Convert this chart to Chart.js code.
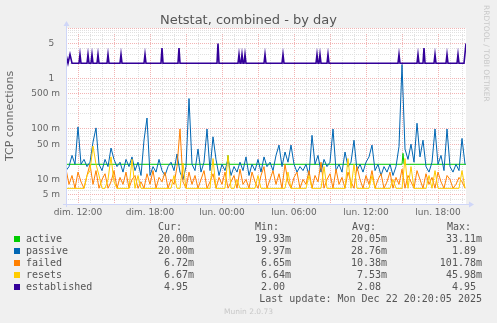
<!DOCTYPE html>
<html>
<head>
<meta charset="utf-8">
<script src="https://cdn.jsdelivr.net/npm/chart.js@4.4.1/dist/chart.umd.min.js"></script>
<style>
  body { margin: 0; background: #f0f0f0; width: 497px; height: 323px; overflow: hidden; position: relative; font-family: "DejaVu Sans", sans-serif; }
  #graphe { position: absolute; left: 0; top: 0; }
  #titre { position: absolute; left: 0; width: 497px; top: 11px; text-align: center; font-size: 13px; line-height: 17px; color: #555; }
  #rrd { position: absolute; left: 482px; top: 5px; writing-mode: vertical-rl; font-size: 7.5px; line-height: 9px; color: #c8c8c8; }
  .leg { position: absolute; font-family: "DejaVu Sans Mono", monospace; font-size: 10px; line-height: 12px; color: #555; white-space: pre; }
  .carre { position: absolute; width: 6px; height: 6px; }
  #munin { position: absolute; left: 0; width: 497px; top: 307px; text-align: center; font-size: 7.5px; line-height: 10px; color: #c8c8c8; }
</style>
</head>
<body>
<canvas id="graphe" width="497" height="222"></canvas>
<div id="titre">Netstat, combined - by day</div>
<div id="rrd">RRDTOOL / TOBI OETIKER</div>
<div id="legende"></div>
<div id="munin">Munin 2.0.73</div>
<script>
// temps en minutes depuis dim. 00:00, valeurs en milli-connexions
const debutMin = 660;
const finMin = 2660;
const pasMin = 15;

const passive = [
  15, 18, 30, 20, 110, 20, 25, 18, 22, 55,
  105, 20, 15, 25, 18, 42, 25, 18, 22, 14,
  25, 18, 28, 15, 22, 12, 60, 165, 12, 18,
  14, 25, 15, 12, 18, 22, 15, 32, 14, 10,
  18, 400, 20, 15, 40, 14, 22, 100, 15, 70,
  25, 12, 20, 15, 25, 12, 18, 14, 22, 15,
  28, 12, 20, 15, 25, 14, 28, 18, 22, 15,
  30, 48, 18, 35, 22, 48, 20, 14, 18, 15,
  20, 12, 75, 20, 30, 14, 25, 18, 22, 100,
  15, 20, 14, 35, 18, 22, 60, 15, 20, 14,
  22, 28, 48, 15, 20, 12, 18, 14, 20, 12,
  18, 45, 1890, 40, 25, 50, 22, 130, 28, 60,
  18, 14, 22, 100, 20, 30, 15, 100, 18, 14,
  20, 15, 65, 20
];

const failed = [
  16, 8, 12, 6.7, 14, 9, 6.7, 12, 20, 8,
  15, 6.7, 10, 13, 6.7, 9, 15, 6.7, 11, 8,
  14, 6.7, 10, 12, 6.7, 9, 6.7, 13, 8, 15,
  6.7, 11, 9, 14, 6.7, 10, 8, 18, 100, 9,
  6.7, 14, 8, 12, 6.7, 10, 15, 6.7, 9, 13,
  6.7, 11, 8, 14, 6.7, 9, 12, 6.7, 16, 8,
  10, 6.7, 14, 9, 6.7, 12, 18, 6.7, 10, 15,
  8, 13, 6.7, 20, 9, 6.7, 11, 14, 6.7, 10,
  8, 15, 6.7, 12, 9, 22, 6.7, 10, 13, 6.7,
  16, 8, 11, 6.7, 14, 9, 6.7, 18, 10, 6.7,
  12, 8, 15, 6.7, 10, 13, 6.7, 9, 14, 6.7,
  11, 8, 16, 6.7, 12, 9, 6.7, 15, 10, 6.7,
  13, 8, 11, 6.7, 14, 9, 6.7, 12, 10, 6.7,
  8, 11, 9, 6.72
];

const resets = [
  6.67, 6.67, 6.67, 6.67, 6.67, 6.67, 6.67, 12, 15, 46,
  20, 12, 6.67, 6.67, 10, 28, 9, 6.67, 6.67, 6.67,
  6.67, 6.67, 25, 6.67, 12, 6.67, 6.67, 6.67, 6.67, 6.67,
  6.67, 6.67, 6.67, 6.67, 6.67, 6.67, 12, 6.67, 6.67, 21,
  6.67, 6.67, 6.67, 6.67, 6.67, 6.67, 6.67, 6.67, 6.67, 26,
  6.67, 6.67, 6.67, 6.67, 30, 6.67, 6.67, 10, 6.67, 6.67,
  6.67, 6.67, 6.67, 6.67, 12, 6.67, 6.67, 6.67, 6.67, 6.67,
  6.67, 6.67, 6.67, 6.67, 14, 6.67, 6.67, 6.67, 6.67, 6.67,
  6.67, 12, 6.67, 6.67, 6.67, 6.67, 18, 6.67, 6.67, 6.67,
  6.67, 6.67, 6.67, 6.67, 26, 6.67, 20, 6.67, 6.67, 6.67,
  6.67, 6.67, 12, 6.67, 6.67, 6.67, 6.67, 6.67, 6.67, 10,
  6.67, 6.67, 6.67, 26, 6.67, 18, 6.67, 6.67, 6.67, 6.67,
  6.67, 12, 6.67, 15, 6.67, 6.67, 6.67, 6.67, 6.67, 6.67,
  6.67, 6.67, 15, 6.67
];

const activeMin = [660, 1465, 1470, 1475, 2340, 2345, 2350, 2660];
const active = [20, 20, 30, 20, 20, 33, 20, 20];

// established en connexions (pas en milli)
const establishedMin = [
  660, 670, 680, 690,
  725, 730, 735, 765, 770, 775, 785, 790, 795, 815, 820, 825,
  865, 870, 875, 930, 935, 940, 1050, 1055, 1060,
  1135, 1140, 1145, 1220, 1225, 1230, 1415, 1420, 1425,
  1520, 1525, 1530, 1535, 1540, 1545, 1550, 1555, 1560,
  1650, 1655, 1660, 1740, 1745, 1750,
  1910, 1915, 1920, 1925, 1930, 1935, 1965, 1970, 1975,
  2320, 2325, 2330, 2415, 2420, 2425, 2445, 2450, 2455,
  2500, 2505, 2510, 2560, 2565, 2570, 2615, 2620, 2625,
  2650, 2660
];
const established = [
  3, 2, 3, 2,
  2, 3, 2, 2, 3, 2, 2, 3, 2, 2, 3, 2,
  2, 3, 2, 2, 3, 2, 2, 3, 2,
  2, 4, 2, 2, 4, 2, 2, 4.95, 2,
  2, 3, 2, 2, 3, 2, 2, 3, 2,
  2, 3, 2, 2, 3, 2,
  2, 3, 2, 2, 3, 2, 2, 3, 2,
  2, 3, 2, 2, 3, 2, 2, 4, 2,
  2, 3, 2, 2, 3, 2, 2, 3, 2,
  2, 4.95
];

const xTickMin = [720, 1080, 1440, 1800, 2160, 2520];
const xTickLabels = ["dim. 12:00", "dim. 18:00", "lun. 00:00", "lun. 06:00", "lun. 12:00", "lun. 18:00"];
const yTickValues = [0.005, 0.01, 0.05, 0.1, 0.5, 1, 5];
const yTickLabels = ["5 m", "10 m", "50 m", "100 m", "500 m", "1", "5"];

const noms = ["active", "passive", "failed", "resets", "established"];
const couleurs = ["#00cc00", "#0066b3", "#ff8000", "#ffcc00", "#330099"];
const curTxt = ["20.00m", "20.00m", "6.72m", "6.67m", "4.95 "];
const minTxt = ["19.93m", "9.97m", "6.65m", "6.64m", "2.00 "];
const avgTxt = ["20.05m", "28.76m", "10.38m", "7.53m", "2.08 "];
const maxTxt = ["33.11m", "1.89 ", "101.78m", "45.98m", "4.95 "];
const derniereMaj = "Last update: Mon Dec 22 20:20:05 2025";

const mineur = "#e0e0e0";
const majeur = "#f2b4b4";

function serie(vals) {
  return vals.map((v, i) => ({ x: debutMin + i * pasMin, y: v / 1000 }));
}
function points(mins, vals, div) {
  return mins.map((m, i) => ({ x: m, y: vals[i] / div }));
}
function ligne(label, data, couleur, epaisseur) {
  return { label, data, borderColor: couleur, borderWidth: epaisseur || 1, pointRadius: 0, tension: 0, fill: false };
}

// fond blanc de la zone de tracé + axes avec flèches
const cadre = {
  id: "cadre",
  beforeDraw(chart) {
    const { ctx, chartArea: a } = chart;
    ctx.save();
    ctx.fillStyle = "#ffffff";
    ctx.fillRect(a.left, a.top, a.right - a.left, a.bottom - a.top);
    ctx.restore();
  },
  afterDatasetsDraw(chart) {
    const { ctx, chartArea: a } = chart;
    ctx.save();
    ctx.strokeStyle = "#cfd6f8";
    ctx.fillStyle = "#cfd6f8";
    ctx.lineWidth = 1;
    ctx.beginPath();
    ctx.moveTo(a.left + 0.5, a.bottom + 3);
    ctx.lineTo(a.left + 0.5, a.top - 3);
    ctx.moveTo(a.left - 3, a.bottom + 0.5);
    ctx.lineTo(a.right + 3, a.bottom + 0.5);
    ctx.stroke();
    ctx.beginPath();
    ctx.moveTo(a.left + 0.5, a.top - 7);
    ctx.lineTo(a.left - 2.5, a.top - 2);
    ctx.lineTo(a.left + 3.5, a.top - 2);
    ctx.closePath();
    ctx.fill();
    ctx.beginPath();
    ctx.moveTo(a.right + 8, a.bottom + 0.5);
    ctx.lineTo(a.right + 3, a.bottom - 2.5);
    ctx.lineTo(a.right + 3, a.bottom + 3.5);
    ctx.closePath();
    ctx.fill();
    ctx.restore();
  }
};

new Chart(document.getElementById("graphe"), {
  type: "line",
  data: {
    datasets: [
      ligne("established", points(establishedMin, established, 1), couleurs[4], 1.6),
      ligne("resets", serie(resets), couleurs[3]),
      ligne("failed", serie(failed), couleurs[2]),
      ligne("passive", serie(passive), couleurs[1]),
      ligne("active", points(activeMin, active, 1000), couleurs[0])
    ]
  },
  options: {
    responsive: false,
    animation: false,
    devicePixelRatio: 1,
    layout: { padding: { top: 28, right: 31, left: 0, bottom: 0 } },
    plugins: { legend: { display: false }, tooltip: { enabled: false } },
    scales: {
      x: {
        type: "linear",
        min: debutMin,
        max: finMin,
        afterFit: s => { s.height = 18; },
        afterBuildTicks: s => {
          const t = [];
          for (let m = 720; m <= 2640; m += 60) t.push({ value: m });
          s.ticks = t;
        },
        grid: { color: c => (c.tick && c.tick.value % 180 === 0) ? majeur : mineur, drawTicks: false, lineWidth: 1 },
        border: { display: false, dash: [1, 1] },
        ticks: {
          autoSkip: false, maxRotation: 0, padding: 3, color: "#666",
          font: { family: "DejaVu Sans", size: 9 },
          callback: v => { const i = xTickMin.indexOf(v); return i >= 0 ? xTickLabels[i] : ""; }
        }
      },
      y: {
        type: "logarithmic",
        min: 0.00327,
        max: 10,
        bounds: "data",
        afterFit: s => { s.width = 66; },
        afterBuildTicks: s => {
          const t = [];
          for (let e = -3; e <= 0; e++) {
            for (let k = 1; k <= 9; k++) {
              const v = k * Math.pow(10, e);
              if (v >= s.min && v <= s.max) t.push({ value: v });
            }
          }
          t.push({ value: 10 });
          s.ticks = t;
        },
        grid: {
          drawTicks: false, lineWidth: 1,
          color: c => {
            const v = c.tick && c.tick.value;
            if (!v) return "transparent";
            const k = Math.round(v / Math.pow(10, Math.floor(Math.log10(v) + 1e-9)));
            return (k === 1 || k === 5) ? majeur : mineur;
          }
        },
        border: { display: false, dash: [1, 1] },
        title: { display: true, text: "TCP connections", color: "#666", font: { family: "DejaVu Sans", size: 11 } },
        ticks: {
          autoSkip: false, padding: 6, color: "#666",
          font: { family: "DejaVu Sans", size: 9 },
          callback: v => {
            const i = yTickValues.findIndex(t => Math.abs(v / t - 1) < 1e-6);
            if (i < 0) return "";
            const l = yTickLabels[i];
            return l.indexOf("m") < 0 ? l + "  " : l;
          }
        }
      }
    }
  },
  plugins: [cadre]
});

// légende façon rrdtool
const leg = document.getElementById("legende");
function texte(t, css) {
  const d = document.createElement("div");
  d.className = "leg";
  d.textContent = t;
  Object.assign(d.style, css);
  leg.appendChild(d);
}
texte("Cur:", { left: "158px", top: "221px" });
texte("Min:", { left: "255px", top: "221px" });
texte("Avg:", { left: "352px", top: "221px" });
texte("Max:", { left: "447px", top: "221px" });
noms.forEach((n, i) => {
  const haut = 233 + i * 12;
  const c = document.createElement("div");
  c.className = "carre";
  c.style.left = "14px";
  c.style.top = (haut + 3) + "px";
  c.style.background = couleurs[i];
  leg.appendChild(c);
  texte(n, { left: "26px", top: haut + "px" });
  texte(curTxt[i], { right: "303px", top: haut + "px" });
  texte(minTxt[i], { right: "206px", top: haut + "px" });
  texte(avgTxt[i], { right: "110px", top: haut + "px" });
  texte(maxTxt[i], { right: "15px", top: haut + "px" });
});
texte(derniereMaj, { right: "15px", top: "293px" });
</script>
</body>
</html>
